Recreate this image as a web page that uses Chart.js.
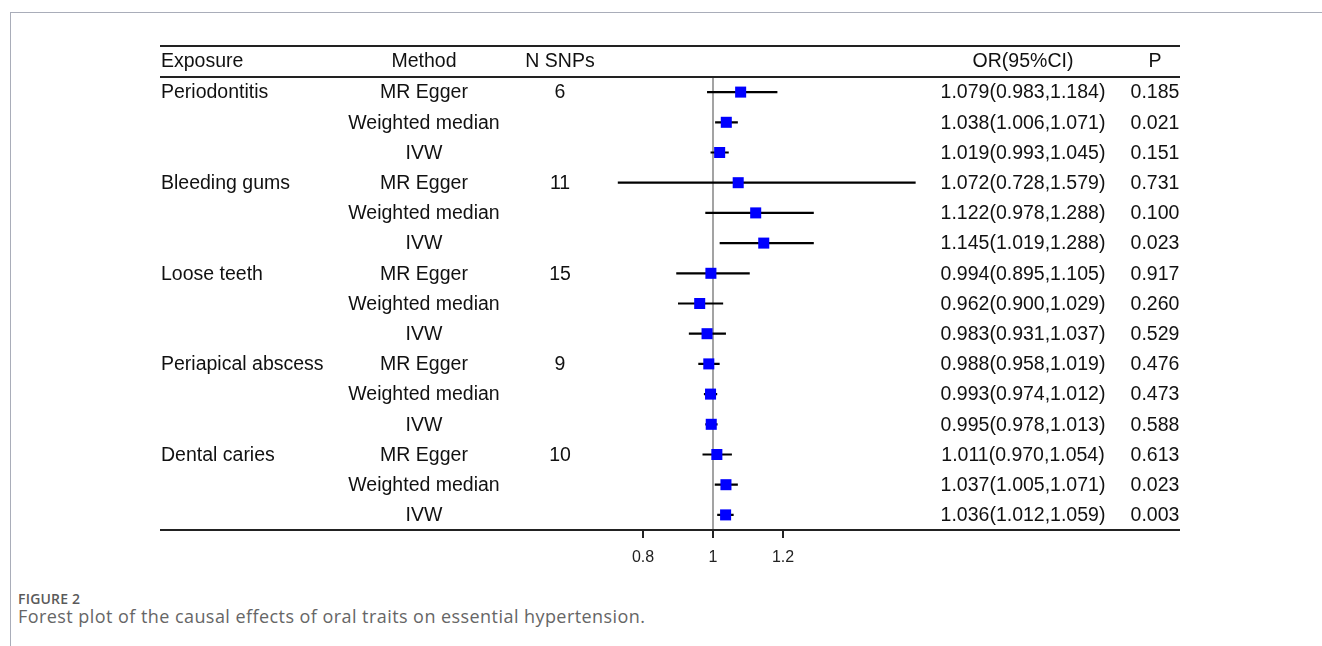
<!DOCTYPE html>
<html>
<head>
<meta charset="utf-8">
<script src="https://cdn.jsdelivr.net/npm/chart.js@4"></script>
<style>
  html, body { margin: 0; padding: 0; background: #fff; width: 1322px; height: 646px; overflow: hidden; }
  #frame { position: absolute; left: 10px; top: 12px; width: 1312px; height: 634px; border-left: 1px solid #a9adb9; border-top: 1px solid #a9adb9; }
  #c { position: absolute; left: 0; top: 0; }
  #figlabel { position: absolute; left: 18px; top: 589px; font-family: "Open Sans", sans-serif; font-weight: 600; font-size: 14px; color: #5a5a5a; letter-spacing: 0.2px; }
  #caption { position: absolute; left: 18px; top: 604px; font-family: "Open Sans", sans-serif; font-size: 18px; color: #666; letter-spacing: 0.44px; }
</style>
</head>
<body>
<div id="frame"></div>
<canvas id="c" width="1322" height="580"></canvas>
<div id="figlabel">FIGURE 2</div>
<div id="caption">Forest plot of the causal effects of oral traits on essential hypertension.</div>
<script>
// ---- data ----
const exposures = ['Periodontitis', 'Bleeding gums', 'Loose teeth', 'Periapical abscess', 'Dental caries'];
const methods = ['MR Egger', 'Weighted median', 'IVW'];
const nSNPs = [6, 11, 15, 9, 10];
const orValues = [1.079, 1.038, 1.019, 1.072, 1.122, 1.145, 0.994, 0.962, 0.983, 0.988, 0.993, 0.995, 1.011, 1.037, 1.036];
const lowerCI = [0.983, 1.006, 0.993, 0.728, 0.978, 1.019, 0.895, 0.900, 0.931, 0.958, 0.974, 0.978, 0.970, 1.005, 1.012];
const upperCI = [1.184, 1.071, 1.045, 1.579, 1.288, 1.288, 1.105, 1.029, 1.037, 1.019, 1.012, 1.013, 1.054, 1.071, 1.059];
const pValues = ['0.185', '0.021', '0.151', '0.731', '0.100', '0.023', '0.917', '0.260', '0.529', '0.476', '0.473', '0.588', '0.613', '0.023', '0.003'];
const tickValues = [0.8, 1, 1.2];
const tickLabels = ['0.8', '1', '1.2'];
const headers = ['Exposure', 'Method', 'N SNPs', 'OR(95%CI)', 'P'];

// ---- derived ----
const nRows = orValues.length;
const pointData = orValues.map((v, i) => ({ x: v, y: i }));
const ciData = [];
lowerCI.forEach((lo, i) => {
  ciData.push({ x: lo, y: i }, { x: upperCI[i], y: i }, { x: NaN, y: NaN });
});
const fmt = v => v.toFixed(3);

// ---- layout constants ----
const TABLE_LEFT = 160, TABLE_RIGHT = 1180;
const LINE_TOP = 46, HEADER_Y = 62;
const COL_EXPOSURE = 161, COL_METHOD = 424, COL_N = 560, COL_OR = 1023, COL_P = 1155;
const FONT = '19.5px "Liberation Sans", Arial, sans-serif';
const TEXT = '#111';

const tablePlugin = {
  id: 'tablePlugin',
  beforeDatasetsDraw(chart) {
    const { ctx, chartArea, scales } = chart;
    const x1 = scales.x.getPixelForValue(1);
    ctx.save();
    ctx.strokeStyle = '#a3a3a3';
    ctx.lineWidth = 2;
    ctx.beginPath();
    ctx.moveTo(x1, chartArea.top);
    ctx.lineTo(x1, chartArea.bottom);
    ctx.stroke();
    ctx.restore();
  },
  afterDraw(chart) {
    const { ctx, chartArea, scales } = chart;
    const y = scales.y;
    ctx.save();
    ctx.strokeStyle = '#222';
    ctx.lineWidth = 2;
    [LINE_TOP, chartArea.top, chartArea.bottom].forEach(yy => {
      ctx.beginPath();
      ctx.moveTo(TABLE_LEFT, yy);
      ctx.lineTo(TABLE_RIGHT, yy);
      ctx.stroke();
    });
    ctx.fillStyle = TEXT;
    ctx.font = FONT;
    ctx.textBaseline = 'middle';
    ctx.textAlign = 'left';
    ctx.fillText(headers[0], COL_EXPOSURE, HEADER_Y);
    ctx.textAlign = 'center';
    ctx.fillText(headers[1], COL_METHOD, HEADER_Y);
    ctx.fillText(headers[2], COL_N, HEADER_Y);
    ctx.fillText(headers[3], COL_OR, HEADER_Y);
    ctx.fillText(headers[4], COL_P, HEADER_Y);
    for (let i = 0; i < nRows; i++) {
      const yy = y.getPixelForValue(i) + 1;
      const g = Math.floor(i / methods.length);
      const m = i % methods.length;
      if (m === 0) {
        ctx.textAlign = 'left';
        ctx.fillText(exposures[g], COL_EXPOSURE, yy);
        ctx.textAlign = 'center';
        ctx.fillText(String(nSNPs[g]), COL_N, yy);
      }
      ctx.textAlign = 'center';
      ctx.fillText(methods[m], COL_METHOD, yy);
      ctx.fillText(fmt(orValues[i]) + '(' + fmt(lowerCI[i]) + ',' + fmt(upperCI[i]) + ')', COL_OR, yy);
      ctx.fillText(pValues[i], COL_P, yy);
    }
    ctx.restore();
  }
};

new Chart(document.getElementById('c'), {
  type: 'scatter',
  data: {
    datasets: [
      {
        label: 'OR',
        data: pointData,
        order: 0,
        pointStyle: 'rect',
        pointRadius: 7.8,
        pointHoverRadius: 7.8,
        backgroundColor: '#0000ff',
        borderColor: '#0000ff',
        borderWidth: 0
      },
      {
        label: '95% CI',
        type: 'line',
        data: ciData,
        order: 1,
        showLine: true,
        spanGaps: false,
        pointRadius: 0,
        borderColor: '#000',
        borderWidth: 2.2
      }
    ]
  },
  plugins: [tablePlugin],
  options: {
    responsive: false,
    animation: false,
    events: [],
    layout: { padding: { left: 573, right: 1322 - 923, top: 77, bottom: 10 } },
    plugins: { legend: { display: false }, tooltip: { enabled: false } },
    scales: {
      x: {
        type: 'linear',
        min: 0.6,
        max: 1.6,
        afterBuildTicks: s => { s.ticks = tickValues.map(v => ({ value: v })); },
        afterFit: s => { s.height = 40; },
        ticks: {
          autoSkip: false,
          maxRotation: 0,
          padding: 10,
          color: '#222',
          font: { family: '"Liberation Sans", Arial, sans-serif', size: 16 },
          callback: (v) => tickLabels[tickValues.indexOf(v)] ?? ''
        },
        grid: { display: true, drawOnChartArea: false, drawTicks: true, tickLength: 8, color: '#222', lineWidth: 2 },
        border: { display: false }
      },
      y: {
        type: 'linear',
        display: false,
        reverse: true,
        min: -0.5,
        max: nRows - 0.5
      }
    }
  }
});
</script>
</body>
</html>
